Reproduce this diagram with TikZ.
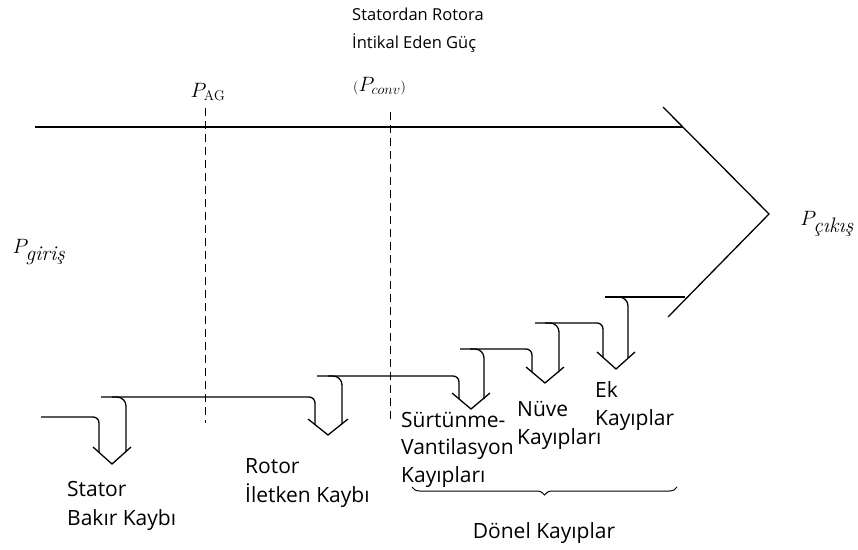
\documentclass[tikz,border=0pt]{standalone}
\usepackage{fontspec}
\newfontfamily\lblfont{Open Sans}
\usetikzlibrary{decorations.pathreplacing}

\begin{document}
\begin{tikzpicture}[
  x=1pt, y=-1pt,
  flow/.style={line width=1.3pt, line join=round, rounded corners=6pt},
  branch/.style={line width=1.3pt, rounded corners=9pt},
  tip/.style={line width=1.3pt, line join=miter},
  cut/.style={line width=1pt, dash pattern=on 8pt off 5pt},
  loss/.style={font=\lblfont\fontsize{21}{29}\selectfont, align=left, inner sep=0pt, anchor=base west},
  note/.style={font=\lblfont\fontsize{16.5}{28}\selectfont, align=left, inner sep=0pt, anchor=base west},
  pw/.style={font=\fontsize{21}{24}\selectfont, inner sep=0pt},
]
  \useasboundingbox (0,0) rectangle (858,549);

  % Main power band and output arrow head
  \draw[flow] (35,127) -- (683,127);
  \draw[tip] (663,107) -- (769,214) -- (668,317);

  % Air gap and conversion boundaries
  \draw[cut] (205,108) -- (205,423);
  \draw[cut] (390,112) -- (390,422);

  % Stator copper loss
  \draw[flow] (41,417) -- (99,417) -- (99,452);
  \draw[branch] (126,452) -- (126,397) -- (112,397);
  \draw[tip] (93,447) -- (112,464) -- (131,447);

  % Rotor copper loss
  \draw[flow] (101,397) -- (315,397) -- (315,424);
  \draw[branch] (342,424) -- (342,376) -- (328,376);
  \draw[tip] (308,419) -- (328,435) -- (348,419);

  % Friction and windage loss
  \draw[flow] (317,376) -- (459,376) -- (459,399);
  \draw[branch] (484,399) -- (484,349) -- (470,349);
  \draw[tip] (452,393) -- (471,409) -- (490,393);

  % Core loss
  \draw[flow] (460,349) -- (532,349) -- (532,372);
  \draw[branch] (559,372) -- (559,323) -- (545,323);
  \draw[tip] (526,367) -- (545,383) -- (564,367);

  % Stray loss
  \draw[flow] (535,323) -- (603,323) -- (603,358);
  \draw[branch] (628,358) -- (628,297) -- (614,297);
  \draw[tip] (597,352) -- (616,369) -- (635,352);
  \draw[flow] (605,297) -- (685,297);

  % Power labels
  \node[pw] (pin) at (39,252) {$P_{\textit{giriş}}$};
  \node[pw] (pout) at (827,224) {$P_{\textit{çıkış}}$};
  \node[pw, font=\fontsize{20}{22}\selectfont] (pag) at (208,92) {$P_{\mathrm{AG}}$};
  \node[note] (transfer) at (352,48) {Statordan Rotora\\İntikal Eden Güç};
  \node[pw, anchor=base west, font=\fontsize{22}{24}\selectfont] (pconv) at (353,91) {{\fontsize{14}{14}\selectfont(}$P_{conv}${\fontsize{14}{14}\selectfont)}};

  % Loss labels
  \node[loss] (statorlbl) at (67,525) {Stator\\Bakır Kaybı};
  \node[loss] (rotorlbl) at (245,502) {Rotor\\İletken Kaybı};
  \node[loss, font=\lblfont\fontsize{21}{27.5}\selectfont] (frictionlbl) at (401,482) {Sürtünme-\\Vantilasyon\\Kayıpları};
  \node[loss, font=\lblfont\fontsize{21}{27.5}\selectfont] (corelbl) at (517,444) {Nüve\\Kayıpları};
  \node[loss, font=\lblfont\fontsize{21}{27.5}\selectfont] (straylbl) at (595,425) {Ek\\Kayıplar};

  % Rotational losses
  \coordinate (bl) at (412,487);
  \coordinate (br) at (677,487);
  \draw[decorate, decoration={brace, amplitude=8pt, mirror}, line width=1pt] (bl) -- (br);
  \node[loss, anchor=base] (rotlbl) at (544,538) {Dönel Kayıplar};
\end{tikzpicture}
\end{document}
